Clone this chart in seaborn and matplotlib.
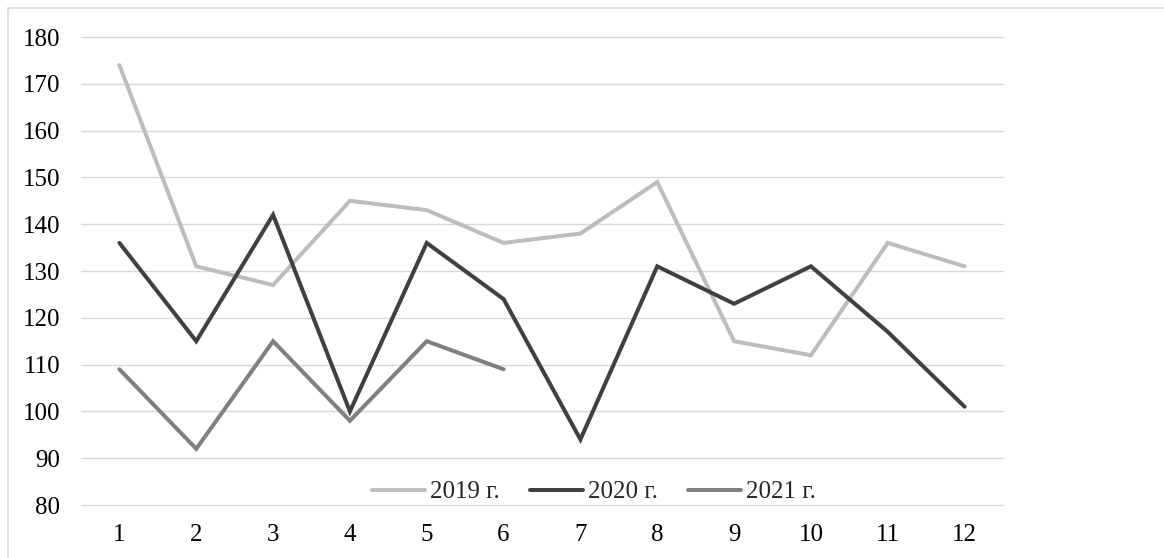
import matplotlib
matplotlib.use("Agg")
import matplotlib.pyplot as plt
from matplotlib.lines import Line2D
import seaborn as sns
import pandas as pd

months = [1, 2, 3, 4, 5, 6, 7, 8, 9, 10, 11, 12]
values_2019 = [174, 131, 127, 145, 143, 136, 138, 149, 115, 112, 136, 131]
values_2020 = [136, 115, 142, 100, 136, 124, 94, 131, 123, 131, 117, 101]
values_2021 = [109, 92, 115, 98, 115, 109]
series_labels = ["2019 г.", "2020 г.", "2021 г."]
series_colors = ["#bdbdbd", "#404040", "#808080"]
y_ticks = [80, 90, 100, 110, 120, 130, 140, 150, 160, 170, 180]

frames = []
for label, vals in zip(series_labels, [values_2019, values_2020, values_2021]):
    frames.append(pd.DataFrame({"month": months[:len(vals)], "value": vals, "year": label}))
df = pd.concat(frames, ignore_index=True)

sns.set_theme(style="white")
plt.rcParams["font.family"] = ["Liberation Serif", "DejaVu Serif"]

fig = plt.figure(figsize=(11.64, 5.58), dpi=100)
ax = fig.add_axes([81 / 1164, 1 - 505 / 558, (1003 - 81) / 1164, (505 - 37) / 558])

sns.lineplot(data=df, x="month", y="value", hue="year", hue_order=series_labels,
             palette=series_colors, linewidth=2.9, ax=ax, legend=False,
             solid_capstyle="round", solid_joinstyle="miter")

ax.set_xlim(0.5, 12.5)
ax.set_ylim(80, 180)
ax.set_xticks(months)
ax.set_xticklabels([str(m) for m in months])
ax.set_yticks(y_ticks)
ax.yaxis.grid(True, color="#d9d9d9", linewidth=1.0)
for gl in ax.get_ygridlines():
    gl.set_clip_on(False)
ax.set_axisbelow(True)
ax.set_xlabel("")
ax.set_ylabel("")
for s in ax.spines.values():
    s.set_visible(False)
ax.tick_params(axis="both", length=0, labelsize=18, colors="black")
ax.tick_params(axis="y", pad=15)
ax.tick_params(axis="x", pad=14)

handles = [Line2D([0], [0], color=c, linewidth=2.9) for c in series_colors]
fig.legend(handles, series_labels, loc="center", bbox_to_anchor=(594 / 1164, 1 - 492 / 558),
           ncol=3, frameon=False, fontsize=18, handlelength=2.12, handletextpad=0.2,
           columnspacing=1.2, borderpad=0)

# chart frame (left and top edges)
fig.add_artist(Line2D([7.5 / 1164, 7.5 / 1164], [0, 1 - 8 / 558], color="#d9d9d9",
                      linewidth=1.2, transform=fig.transFigure))
fig.add_artist(Line2D([7.5 / 1164, 1], [1 - 8 / 558, 1 - 8 / 558], color="#d9d9d9",
                      linewidth=1.2, transform=fig.transFigure))

fig.savefig("out.png", dpi=100, facecolor="white")
